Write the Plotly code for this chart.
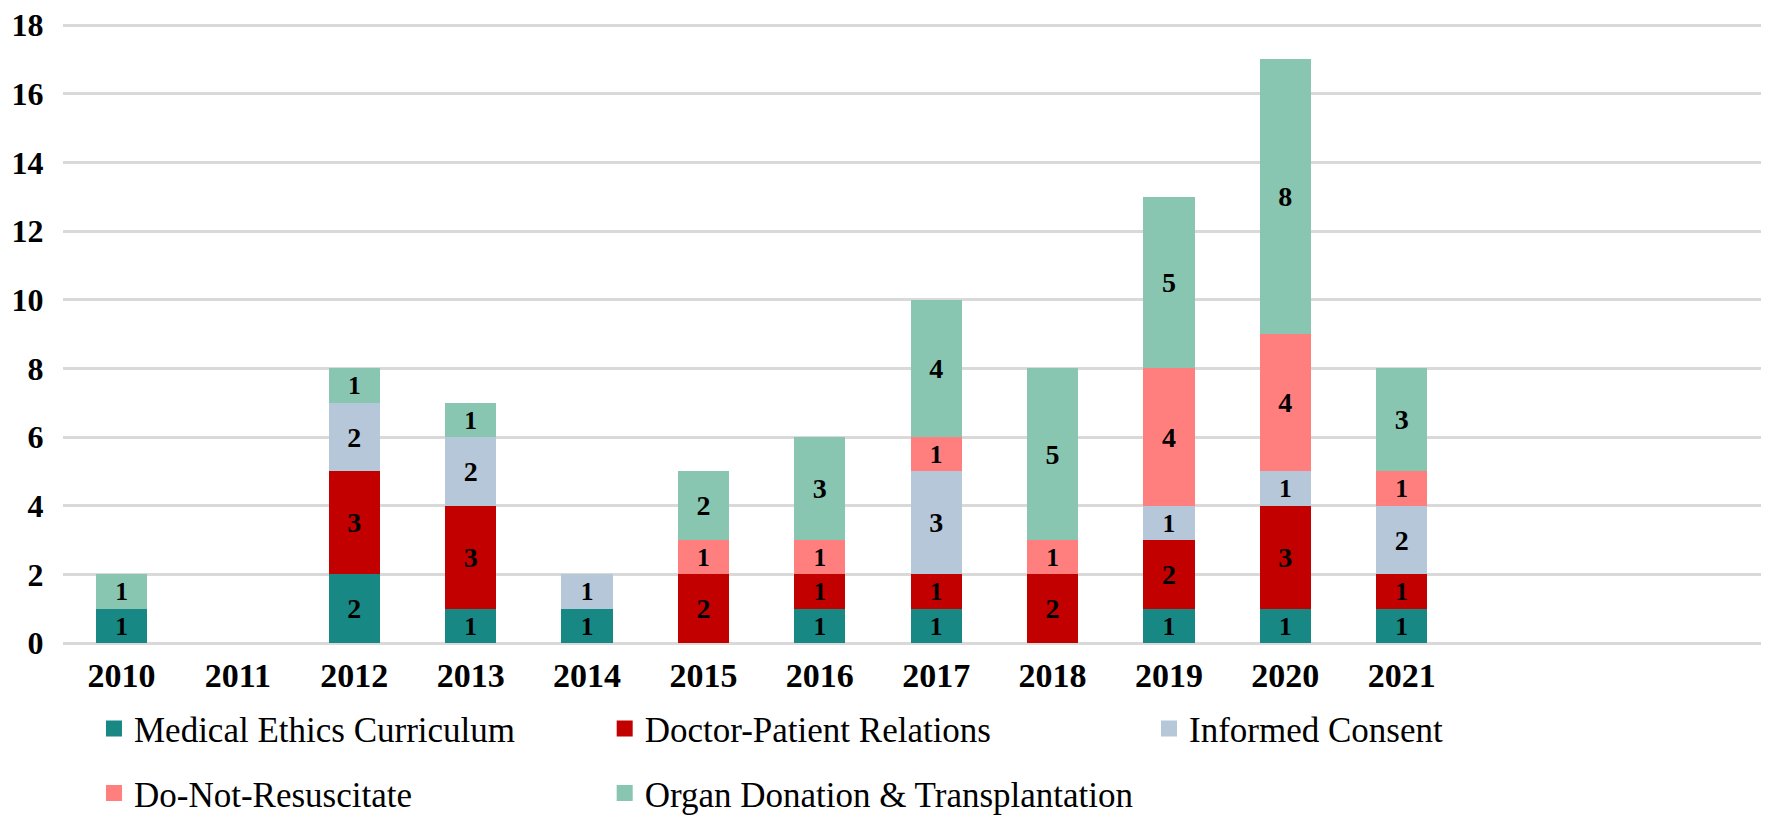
import plotly.graph_objects as go

years = ["2010", "2011", "2012", "2013", "2014", "2015", "2016", "2017", "2018", "2019", "2020", "2021"]

medical_ethics_curriculum = [1, 0, 2, 1, 1, 0, 1, 1, 0, 1, 1, 1]
doctor_patient_relations = [0, 0, 3, 3, 0, 2, 1, 1, 2, 2, 3, 1]
informed_consent = [0, 0, 2, 2, 1, 0, 0, 3, 0, 1, 1, 2]
do_not_resuscitate = [0, 0, 0, 0, 0, 1, 1, 1, 1, 4, 4, 1]
organ_donation = [1, 0, 1, 1, 0, 2, 3, 4, 5, 5, 8, 3]

series = [
  ("Medical Ethics Curriculum", medical_ethics_curriculum, "#178883"),
  ("Doctor-Patient Relations", doctor_patient_relations, "#c20000"),
  ("Informed Consent", informed_consent, "#b6c7da"),
  ("Do-Not-Resuscitate", do_not_resuscitate, "#ff7f7f"),
  ("Organ Donation &amp; Transplantation", organ_donation, "#88c6b1"),
]

FONT = "Liberation Serif, Times New Roman, serif"

# one legend box per entry, laid out like the original two-row key (container coords)
legend_slots = [(0.0486, 0.119), (0.3373, 0.119), (0.645, 0.119), (0.0486, 0.040), (0.3373, 0.040)]
legend_ids = ["legend", "legend2", "legend3", "legend4", "legend5"]

fig = go.Figure()
for (name, values, color), legend in zip(series, legend_ids):
  fig.add_trace(
    go.Bar(
      x=years,
      y=values,
      name=name,
      marker={"color": color, "line": {"width": 0}},
      text=[str(v) if v > 0 else "" for v in values],
      textposition="inside",
      insidetextanchor="middle",
      textangle=0,
      textfont={"family": FONT, "size": 28, "color": "black", "weight": "bold"},
      showlegend=False,
      hoverinfo="x+y+name",
    )
  )
  # legend-only square swatch (bigger than the default bar key)
  fig.add_trace(
    go.Scatter(
      x=[None],
      y=[None],
      mode="markers",
      name=name,
      marker={"symbol": "square", "size": 16, "color": color},
      legend=legend,
      hoverinfo="skip",
    )
  )

legend_style = {
  "orientation": "h",
  "font": {"family": FONT, "size": 35, "color": "black"},
  "xref": "container",
  "yref": "container",
  "xanchor": "left",
  "yanchor": "middle",
  "bgcolor": "rgba(0,0,0,0)",
}

fig.update_layout(
  barmode="stack",
  bargap=0.56,
  width=1769,
  height=818,
  margin={"l": 55, "r": 9, "t": 16, "b": 183},
  plot_bgcolor="white",
  paper_bgcolor="white",
  font={"family": FONT, "color": "black"},
  xaxis={
    "type": "category",
    "categoryorder": "array",
    "categoryarray": years,
    "range": [-0.503, 14.147],
    "automargin": False,
    "showgrid": False,
    "showline": False,
    "ticks": "",
    "tickfont": {"family": FONT, "size": 34, "weight": "bold"},
    "ticklabelstandoff": 9,
  },
  yaxis={
    "range": [0, 18.03],
    "tickvals": list(range(0, 19, 2)),
    "automargin": False,
    "showgrid": True,
    "gridcolor": "#d9d9d9",
    "gridwidth": 2.5,
    "zeroline": True,
    "zerolinecolor": "#d9d9d9",
    "zerolinewidth": 2.5,
    "showline": False,
    "ticks": "outside",
    "ticklen": 12,
    "tickcolor": "rgba(0,0,0,0)",
    "ticklabeloverflow": "allow",
    "tickfont": {"family": FONT, "size": 32, "weight": "bold"},
  },
)
fig.update_layout({lid: {**legend_style, "x": x, "y": y} for lid, (x, y) in zip(legend_ids, legend_slots)})

fig.write_html("out.html")
